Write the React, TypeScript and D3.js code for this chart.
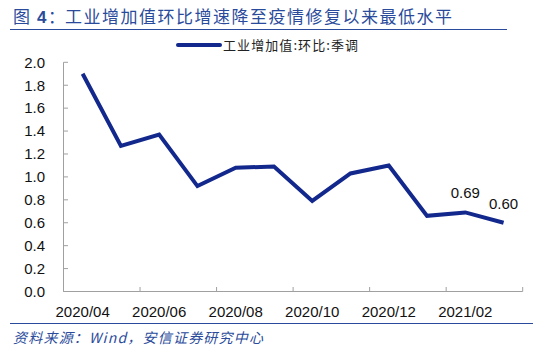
import React from "react";
import * as d3 from "d3";

const categories = ["2020/04","2020/05","2020/06","2020/07","2020/08","2020/09","2020/10","2020/11","2020/12","2021/01","2021/02","2021/03"];
const values = [1.90, 1.27, 1.37, 0.92, 1.08, 1.09, 0.79, 1.03, 1.10, 0.66, 0.69, 0.60];
const yTicks = [0, 0.2, 0.4, 0.6, 0.8, 1.0, 1.2, 1.4, 1.6, 1.8, 2.0];
const xTickLabels = ["2020/04","2020/06","2020/08","2020/10","2020/12","2021/02"];
const labeledCategories = ["2021/02","2021/03"];
const titlePrefix = "图";
const titleNumber = "4";
const titleMain = "工业增加值环比增速降至疫情修复以来最低水平";
const legendLabel = "工业增加值:环比:季调";
const source = "资料来源：Wind，安信证券研究中心";

export default function App() {
  const W = 550, H = 356;
  const left = 63.5, right = 522.7, top = 62.3, bottom = 291.5;
  const x = d3.scaleBand<string>().domain(categories).range([left, right]).padding(0);
  const y = d3.scaleLinear().domain([0, 2]).range([bottom, top]);
  const cx = (c: string) => (x(c) as number) + x.bandwidth() / 2;
  const line = d3.line<number>().x((_, i) => cx(categories[i])).y(d => y(d));
  const lineColor = "#12288C";
  const axisColor = "#A0A0A0";
  const titleColor = "#2A4B9B";
  const font = "'Liberation Sans', Arial, sans-serif";
  const cjk = "'Noto Sans CJK SC', 'Liberation Sans', sans-serif";
  const boundaries = d3.range(0, categories.length + 1, 2).map(i => left + i * x.bandwidth());
  return (
    <svg width={W} height={H} style={{ position: "absolute", left: 0, top: 0, background: "#fff" }}>
      <text x={13} y={23} fontFamily={cjk} fontSize={17} fill={titleColor}>{titlePrefix}</text>
      <text x={37} y={23} fontFamily={font} fontSize={17} fontWeight="bold" fill={titleColor}>{titleNumber}</text>
      <text x={48} y={23} fontFamily={cjk} fontSize={17} fill={titleColor}>：</text>
      <text x={65} y={23} fontFamily={cjk} fontSize={17} fill={titleColor} textLength={387} lengthAdjust="spacing">{titleMain}</text>
      <line x1={10} x2={507} y1={29.5} y2={29.5} stroke={titleColor} strokeWidth={1.2} />
      {/* legend */}
      <line x1={178} x2={220} y1={45} y2={45} stroke={lineColor} strokeWidth={4} strokeLinecap="round" />
      <text x={223} y={50} fontFamily={cjk} fontSize={13} fill="#222" textLength={135} lengthAdjust="spacing">{legendLabel}</text>
      {/* y axis */}
      <line x1={left} x2={left} y1={top} y2={bottom} stroke={axisColor} strokeWidth={1} />
      {yTicks.map(t => (
        <g key={t}>
          <line x1={left} x2={left + 4.5} y1={y(t)} y2={y(t)} stroke={axisColor} strokeWidth={1} />
          <text x={45} y={y(t) + 5.3} textAnchor="end" fontFamily={font} fontSize={15} fill="#111">{t.toFixed(1)}</text>
        </g>
      ))}
      {/* x axis */}
      <line x1={left} x2={right} y1={bottom} y2={bottom} stroke={axisColor} strokeWidth={1} />
      {boundaries.map((b, i) => (
        <line key={i} x1={b} x2={b} y1={bottom} y2={bottom - 4.5} stroke={axisColor} strokeWidth={1} />
      ))}
      {xTickLabels.map(c => (
        <text key={c} x={cx(c)} y={316.5} textAnchor="middle" fontFamily={font} fontSize={15} fill="#111">{c}</text>
      ))}
      <path d={line(values) || ""} fill="none" stroke={lineColor} strokeWidth={4} strokeLinejoin="miter" />
      {labeledCategories.map(c => {
        const v = values[categories.indexOf(c)];
        return (
          <text key={c} x={cx(c)} y={y(v) - 14} textAnchor="middle" fontFamily={font} fontSize={15} fill="#111">{v.toFixed(2)}</text>
        );
      })}
      <line x1={10} x2={533} y1={323.5} y2={323.5} stroke={titleColor} strokeWidth={1.2} />
      <text x={13} y={343} fontFamily={cjk} fontSize={14} fontStyle="italic" fill={titleColor} textLength={250} lengthAdjust="spacing">
        {source}
      </text>
    </svg>
  );
}
